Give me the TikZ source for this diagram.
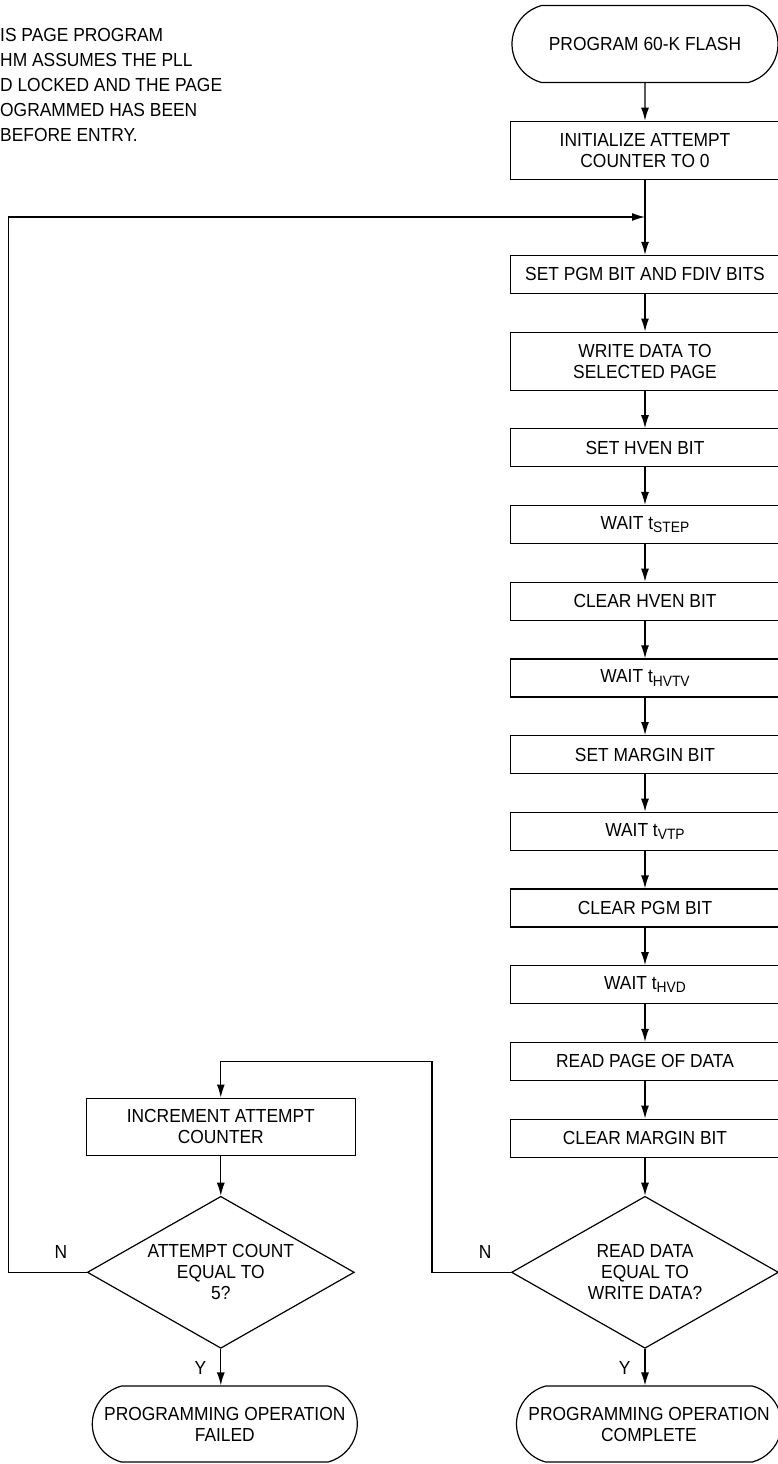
\documentclass[tikz,border=0pt]{standalone}
\usepackage{fontspec}
\setmainfont{Liberation Sans}[FakeStretch=0.92]
\usetikzlibrary{shapes.geometric, shapes.misc, arrows.meta, positioning}
\newcommand{\lowtxt}[1]{\raisebox{-0.35ex}{\fontsize{15}{15}\selectfont #1}}
\tikzstyle{terminal} = [rounded rectangle, rounded rectangle arc length=150, draw, line width=1.2pt, minimum width=270pt, minimum height=77pt, inner sep=2pt, text centered]
\tikzstyle{process} = [rectangle, draw, line width=1.2pt, minimum width=269pt, minimum height=38pt, inner sep=2pt, text centered]
\tikzstyle{decision} = [diamond, aspect=1.757, draw, line width=1.2pt, minimum width=267pt, minimum height=152pt, inner sep=0pt, text centered]
\tikzstyle{cable} = [line width=1.2pt, -{Latex[length=13pt,width=8pt]}]

\begin{document}
\begin{tikzpicture}[align=center, node distance=37.5pt, font=\fontsize{18.9}{21}\selectfont]
  \useasboundingbox (0,0) rectangle (778pt,-1464pt);
  % note, cut at the left edge
  \node (note) [anchor=north west, align=left, inner sep=0pt, font=\fontsize{18.9}{25}\selectfont] at (0,-28pt)
    {IS PAGE PROGRAM\\HM ASSUMES THE PLL\\D LOCKED AND THE PAGE\\OGRAMMED HAS BEEN\\BEFORE ENTRY.};
  % main column
  \node (start) [terminal] at (645pt,-44pt) {PROGRAM 60-K FLASH};
  \node (init) [process, minimum height=58pt, below = of start] {INITIALIZE ATTEMPT\\COUNTER TO 0};
  \node (setpgm) [process, below = 75pt of init] {SET PGM BIT AND FDIV BITS};
  \node (write) [process, minimum height=58pt, below = of setpgm] {WRITE DATA TO\\SELECTED PAGE};
  \node (sethven) [process, below = of write] {SET HVEN BIT};
  \node (tstep) [process, below = of sethven] {WAIT t\lowtxt{STEP}};
  \node (clrhven) [process, below = of tstep] {CLEAR HVEN BIT};
  \node (thvtv) [process, below = of clrhven] {WAIT t\lowtxt{HVTV}};
  \node (setmargin) [process, below = of thvtv] {SET MARGIN BIT};
  \node (tvtp) [process, below = of setmargin] {WAIT t\lowtxt{VTP}};
  \node (clrpgm) [process, below = of tvtp] {CLEAR PGM BIT};
  \node (thvd) [process, below = of clrpgm] {WAIT t\lowtxt{HVD}};
  \node (readpg) [process, below = of thvd] {READ PAGE OF DATA};
  \node (clrmargin) [process, below = of readpg] {CLEAR MARGIN BIT};
  \node (rdec) [decision, below = 38pt of clrmargin] {READ DATA\\EQUAL TO\\WRITE DATA?};
  \node (done) [terminal, minimum width=269pt, minimum height=76pt, below = 36.5pt of rdec, xshift=4pt] {PROGRAMMING OPERATION\\COMPLETE};
  % retry column
  \node (ldec) [decision, left = 156pt of rdec] {ATTEMPT COUNT\\EQUAL TO\\5?};
  \node (inc) [process, minimum height=57pt, above = 40pt of ldec] {INCREMENT ATTEMPT\\COUNTER};
  \node (fail) [terminal, minimum width=269pt, minimum height=76pt, below = 36.5pt of ldec, xshift=4pt] {PROGRAMMING OPERATION\\FAILED};
  \coordinate (loop) at (init.south |- 0,-217pt);

  \draw [cable] (start) -- (init);
  \draw [cable] (init) -- (setpgm);
  \draw [cable] (setpgm) -- (write);
  \draw [cable] (write) -- (sethven);
  \draw [cable] (sethven) -- (tstep);
  \draw [cable] (tstep) -- (clrhven);
  \draw [cable] (clrhven) -- (thvtv);
  \draw [cable] (thvtv) -- (setmargin);
  \draw [cable] (setmargin) -- (tvtp);
  \draw [cable] (tvtp) -- (clrpgm);
  \draw [cable] (clrpgm) -- (thvd);
  \draw [cable] (thvd) -- (readpg);
  \draw [cable] (readpg) -- (clrmargin);
  \draw [cable] (clrmargin) -- (rdec);
  \draw [cable] (rdec.south) -- (rdec.south |- done.north);
  \draw [cable] (rdec.west) -- ++(-79pt,0) |- (inc.north |- readpg) -- (inc.north);
  \draw [cable] (inc) -- (ldec);
  \draw [cable] (ldec.south) -- (ldec.south |- fail.north);
  \draw [cable] (ldec.west) -- ++(-78pt,0) |- (loop);
  % branch labels
  \node (rn) [above left = 10pt and 16pt of rdec.west] {N};
  \node (ry) [below left = 9pt and 11pt of rdec.south] {Y};
  \node (ln) [above left = 10pt and 16pt of ldec.west] {N};
  \node (ly) [below left = 9pt and 11pt of ldec.south] {Y};
\end{tikzpicture}
\end{document}
